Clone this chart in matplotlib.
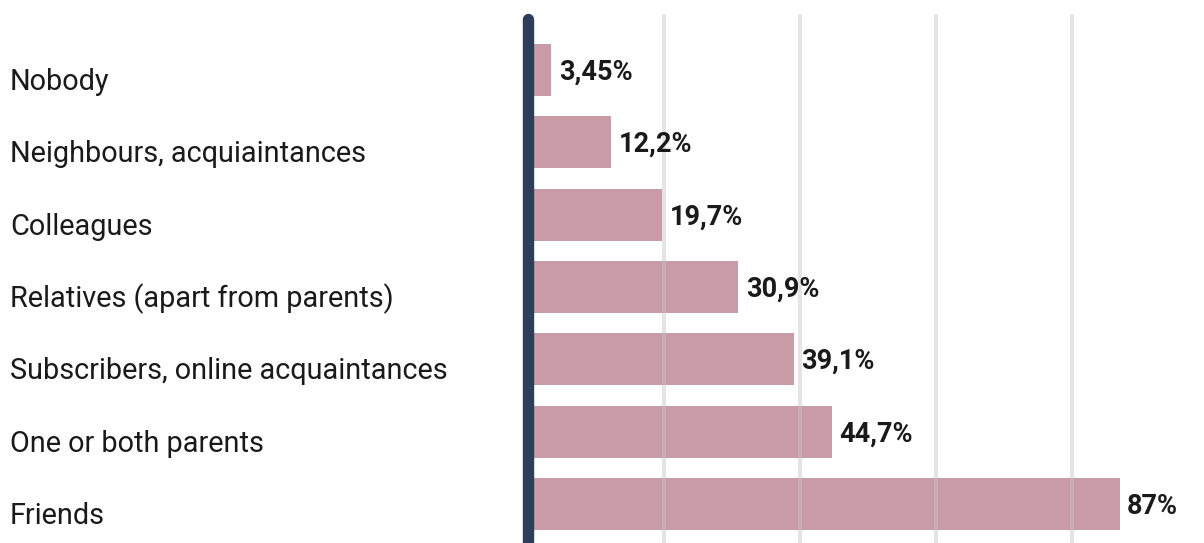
import matplotlib
matplotlib.use("Agg")
import matplotlib.pyplot as plt
from matplotlib import transforms

# who respondents talk to
categories = ["Nobody", "Neighbours, acquiaintances", "Colleagues",
              "Relatives (apart from parents)", "Subscribers, online acquaintances",
              "One or both parents", "Friends"]
values = [3.45, 12.2, 19.7, 30.9, 39.1, 44.7, 87]
value_labels = ["3,45%", "12,2%", "19,7%", "30,9%", "39,1%", "44,7%", "87%"]
grid_ticks = [20, 40, 60, 80]

plt.rcParams['font.family'] = ['Roboto', 'DejaVu Sans']

W, H, DPI = 1204, 543, 100
fig = plt.figure(figsize=(W / DPI, H / DPI), dpi=DPI)
fig.patch.set_facecolor('white')

x0 = 528
ax = fig.add_axes([x0 / W, 0, 1 - x0 / W, 1])
px_per_unit = 6.8
ax.set_xlim(0, (W - x0) / px_per_unit)

pitch = 72.33
top_c = 70
ax.set_ylim(6 + (H - top_c - 6 * pitch) / pitch, -top_c / pitch)
ax.axis('off')

ypos = list(range(len(categories)))
ax.barh(ypos, values, height=0.72, color='#c99ba7', zorder=2)

# vertical gridlines, drawn over the bars
g_top = -(top_c - 14) / pitch
for t in grid_ticks:
    ax.plot([t, t], [g_top, 7], color='#c4c4c4', alpha=0.45, lw=2.8,
            solid_capstyle='butt', zorder=3)

# baseline
ax.plot([0, 0], [-(top_c - 19.5) / pitch, 7], color='#2c3e5a', lw=8.2,
        solid_capstyle='round', zorder=4, clip_on=False)

for y, v, lab in zip(ypos, values, value_labels):
    ax.annotate(lab, xy=(v, y), xytext=(5.5, -1.5), textcoords='offset points',
                ha='left', va='center', fontsize=19.5, fontweight='semibold',
                color='#1a1a1a', zorder=5)

trans = transforms.blended_transform_factory(fig.transFigure, ax.transData)
trans = transforms.offset_copy(trans, fig=fig, y=-12, units='dots')
for y, name in zip(ypos, categories):
    fig.text(10 / W, y, name, transform=trans, ha='left', va='center',
             fontsize=20.8, color='#1a1a1a')

fig.savefig('out.png', dpi=DPI)
